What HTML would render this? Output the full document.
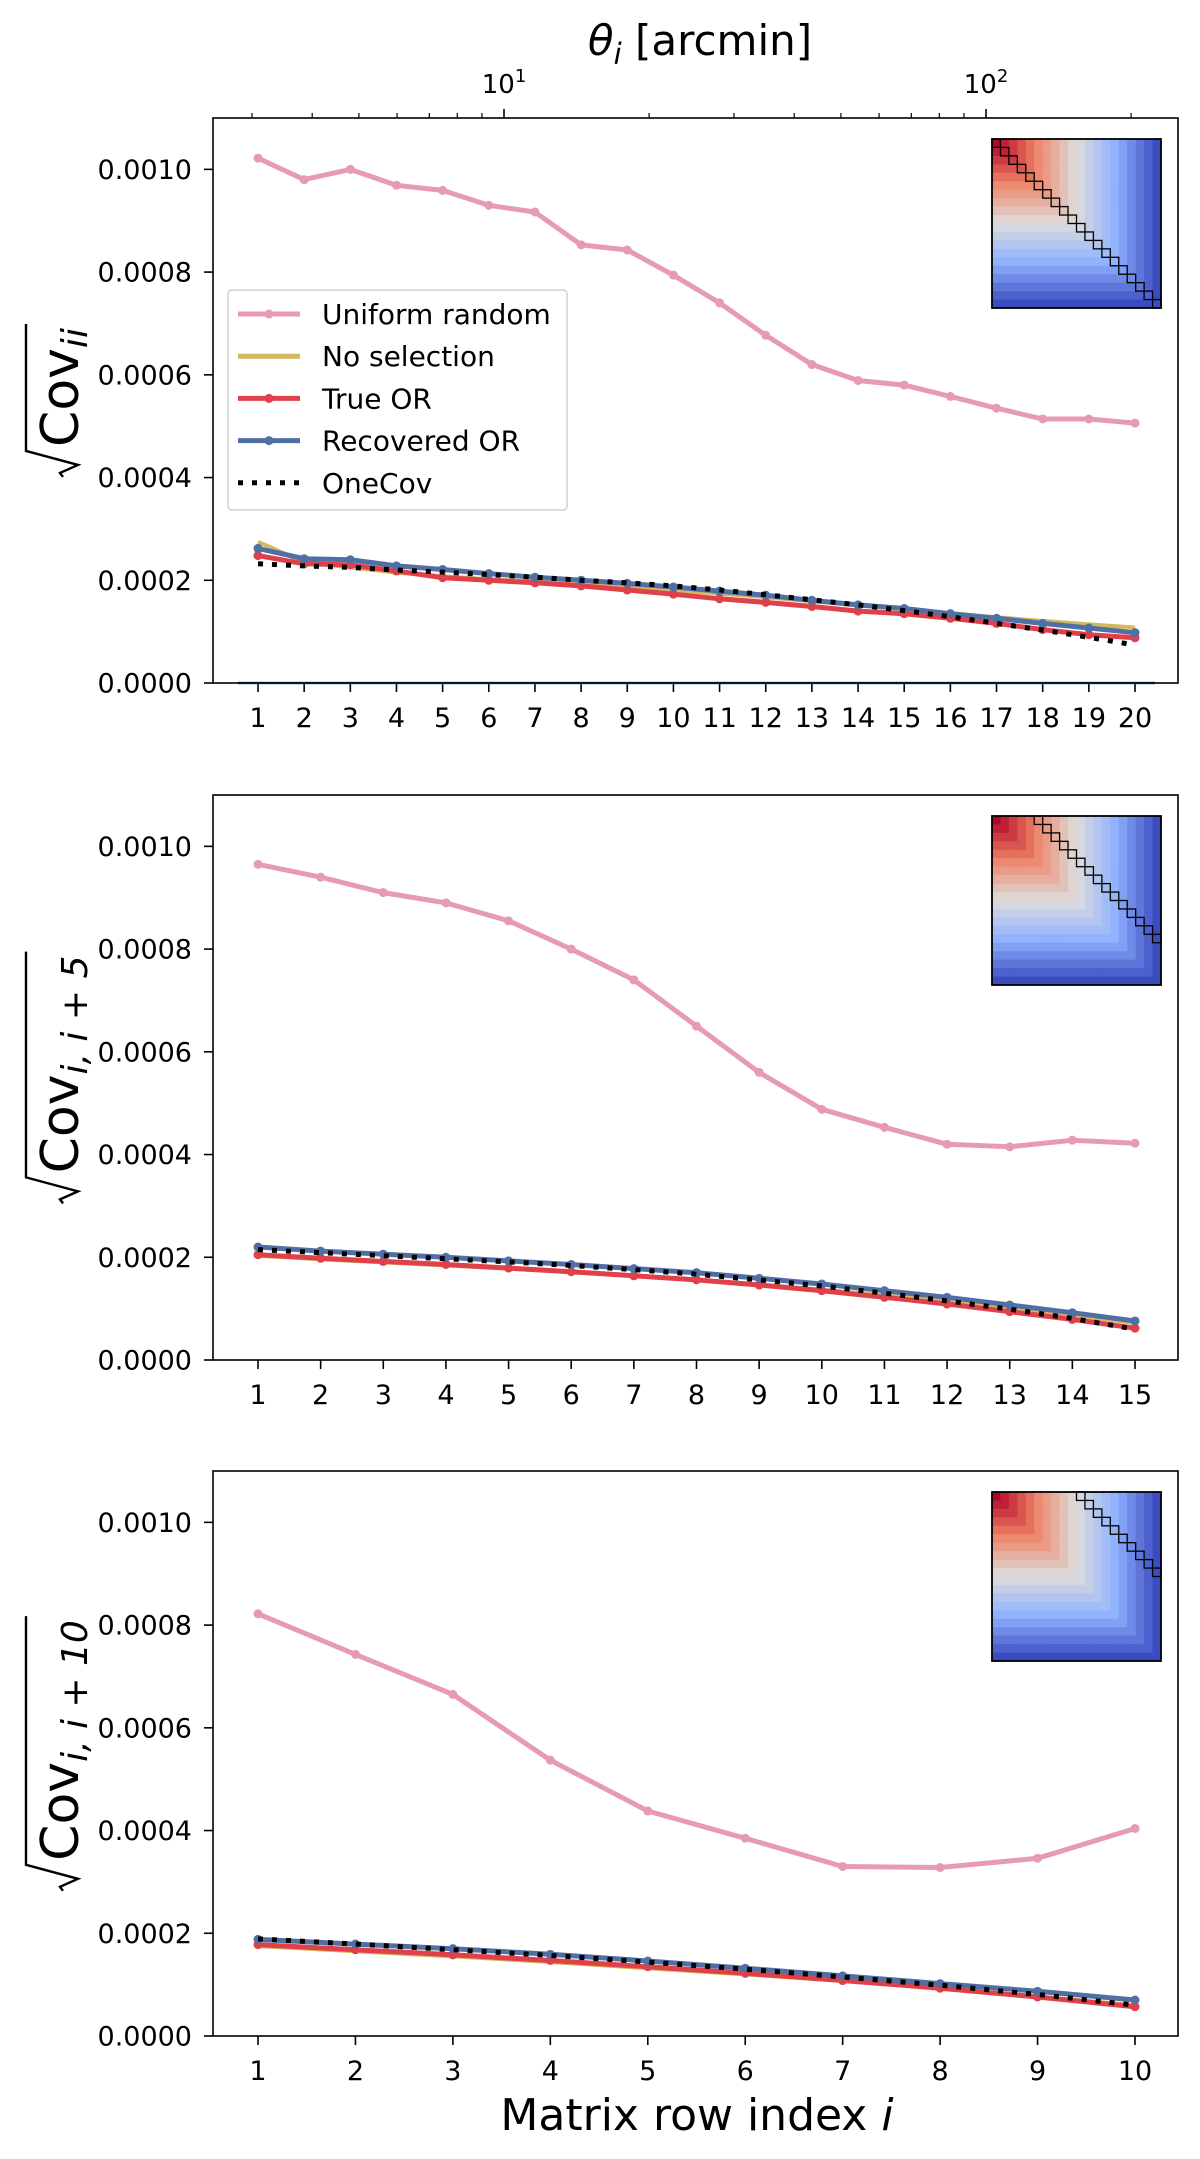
<!DOCTYPE html>
<html><head><meta charset="utf-8"><title>Covariance diagonals</title>
<style>
html,body{margin:0;padding:0;background:#fff;}
svg{display:block;font-family:"DejaVu Sans","Liberation Sans",sans-serif;}
</style></head>
<body>
<svg id="fig" width="1200" height="2159" viewBox="0 0 1200 2159" xmlns="http://www.w3.org/2000/svg"></svg>
<script>
// ---- data ----
const p1Uniform=[0.001022,0.00098,0.001,0.000969,0.000959,0.00093,0.000917,0.000853,0.000843,0.000794,0.00074,0.000677,0.00062,0.000589,0.00058,0.000558,0.000535,0.000514,0.000514,0.000506];
const p1NoSel=[0.000275,0.000235,0.000225,0.000215,0.000208,0.000202,0.000197,0.000191,0.000186,0.000181,0.000174,0.000167,0.000159,0.000151,0.000144,0.000136,0.000128,0.000121,0.000114,0.000108];
const p1True=[0.000248,0.000232,0.00023,0.000218,0.000205,0.0002,0.000195,0.000189,0.000181,0.000173,0.000164,0.000157,0.000149,0.00014,0.000135,0.000126,0.000116,0.000104,0.000094,0.000088];
const p1Rec=[0.000262,0.000242,0.00024,0.000228,0.000221,0.000213,0.000206,0.0002,0.000194,0.000187,0.000179,0.000171,0.000161,0.000152,0.000145,0.000135,0.000126,0.000116,0.000107,0.000098];
const p1One=[0.000232,0.000228,0.000225,0.00022,0.000216,0.000211,0.000206,0.0002,0.000195,0.000189,0.000181,0.000172,0.000162,0.000152,0.000141,0.000129,0.000116,0.000103,0.000089,0.000074];
const p2Uniform=[0.000965,0.00094,0.00091,0.00089,0.000855,0.0008,0.00074,0.00065,0.00056,0.000488,0.000453,0.00042,0.000415,0.000428,0.000422];
const p2NoSel=[0.000203,0.000196,0.00019,0.000184,0.000178,0.000171,0.000164,0.000156,0.000147,0.000137,0.000126,0.000114,0.000101,0.000087,0.000072];
const p2True=[0.000205,0.000198,0.000192,0.000186,0.000179,0.000172,0.000164,0.000156,0.000146,0.000135,0.000122,0.000109,0.000094,0.000079,0.000062];
const p2Rec=[0.00022,0.000212,0.000206,0.0002,0.000193,0.000186,0.000178,0.00017,0.000159,0.000148,0.000135,0.000122,0.000107,0.000092,0.000076];
const p2One=[0.000215,0.000209,0.000203,0.000197,0.000191,0.000184,0.000176,0.000167,0.000156,0.000144,0.00013,0.000115,0.000099,0.000081,0.00006];
const p3Uniform=[0.000822,0.000743,0.000665,0.000537,0.000438,0.000385,0.00033,0.000328,0.000346,0.000404];
const p3NoSel=[0.000175,0.000165,0.000155,0.000144,0.000132,0.00012,0.000107,0.000093,0.000077,0.00006];
const p3True=[0.000178,0.000168,0.000158,0.000147,0.000135,0.000122,0.000108,0.000093,0.000076,0.000057];
const p3Rec=[0.000188,0.000179,0.00017,0.000159,0.000146,0.000132,0.000117,0.000102,0.000087,0.00007];
const p3One=[0.000189,0.000179,0.000168,0.000157,0.000144,0.00013,0.000115,0.000099,0.000081,0.00006];
const yTicks=[0,0.0002,0.0004,0.0006,0.0008,0.001];
const yTickLabels=["0.0000","0.0002","0.0004","0.0006","0.0008","0.0010"];
const legendLabels=["Uniform random","No selection","True OR","Recovered OR","OneCov"];
const thetaMajor=[10,100];
const thetaMinor=[3,4,5,6,7,8,9,20,30,40,50,60,70,80,90,200];
// ---- drawing ----
const NS="http://www.w3.org/2000/svg";
const svg=document.getElementById('fig');
function mk(tag,attrs,parent){const e=document.createElementNS(NS,tag);for(const k in attrs)e.setAttribute(k,attrs[k]);(parent||svg).appendChild(e);return e;}
const C={uni:"#e69ab5",nos:"#d4b85c",tru:"#e0404a",rec:"#5070a5"};
const AX_L=213,AX_R=1178,AX_H=565,TF=27;
const panels=[
 {top:118,n:20,off:0,series:[p1Uniform,p1NoSel,p1True,p1Rec,p1One],lab:"ii"},
 {top:795,n:15,off:5,series:[p2Uniform,p2NoSel,p2True,p2Rec,p2One],lab:"i, i + 5"},
 {top:1471,n:10,off:10,series:[p3Uniform,p3NoSel,p3True,p3Rec,p3One],lab:"i, i + 10"}
];
function coolwarm(t){
 const st=[[0,[180,4,38]],[0.25,[238,132,104]],[0.5,[221,221,221]],[0.75,[141,176,254]],[1,[59,76,192]]];
 for(let k=0;k<st.length-1;k++){const a=st[k],b=st[k+1];if(t<=b[0]){const f=(t-a[0])/(b[0]-a[0]);return "rgb("+a[1].map((v,i)=>Math.round(v+(b[1][i]-v)*f)).join(",")+")";}}
 return "rgb(59,76,192)";
}
panels.forEach((p,pi)=>{
 const g=mk('g',{});
 
 
 const bot=p.top+AX_H;
 const xs=i=>258+(i-1)*(1135-258)/(p.n-1);
 const ys=v=>bot-v/0.0011*AX_H;
 yTicks.forEach((t,k)=>{
  const y=ys(t);
  const tl=mk('line',{x1:AX_L-9,x2:AX_L,y1:y,y2:y,stroke:"#000","stroke-width":1.6},g);
  
  const tx=mk('text',{x:AX_L-21,y:y+9.5,"text-anchor":"end","font-size":TF},g);tx.textContent=yTickLabels[k];
  
 });
 for(let i=1;i<=p.n;i++){
  const x=xs(i);
  const tl=mk('line',{x1:x,x2:x,y1:bot,y2:bot+9,stroke:"#000","stroke-width":1.6},g);
  
  const tx=mk('text',{x:x,y:bot+44,"text-anchor":"middle","font-size":TF},g);tx.textContent=i;
  
 }
 const cy=p.top+AX_H/2;
 const yl=mk('g',{transform:"translate(78,"+cy+") rotate(-90)"},g);
 
 const t=mk('text',{x:0,y:0,"font-size":52},yl);
 t.innerHTML='Cov<tspan font-style="italic" font-size="36" dy="9">'+p.lab+'</tspan>';
 let w=t.getComputedTextLength?t.getComputedTextLength():120;
 if(!w||w<20)w=120+p.lab.length*14;
 const total=30+w+4, u0=-total/2;
 t.setAttribute('x',u0+30);
 mk('path',{d:"M"+(u0)+",-15 L"+(u0+4)+",-18 L"+(u0+12)+",0 L"+(u0+26)+",-52 L"+(u0+total)+",-52",fill:"none",stroke:"#000","stroke-width":2.4},yl);
 if(pi===0){
  const hl=mk('line',{x1:238,x2:1155,y1:bot,y2:bot,stroke:"#1f77b4","stroke-width":2.5},g);
  
 }
 const cols=[C.uni,C.nos,C.tru,C.rec,"#000"];
 const names=["uniform-random","no-selection","true-or","recovered-or","onecov"];
 p.series.forEach((s,si)=>{
  const pts=s.map((v,i)=>xs(i+1).toFixed(1)+","+ys(v).toFixed(1)).join(" ");
  const attrs={points:pts,fill:"none",stroke:cols[si],"stroke-width":si===1?4:5,"stroke-linejoin":"round"};
  if(si===4){attrs["stroke-dasharray"]="5 9";}
  const pl=mk('polyline',attrs,g);
  
  if(si===0||si===2||si===3){
   s.forEach((v,i)=>{const c=mk('circle',{cx:xs(i+1),cy:ys(v),r:4.5,fill:cols[si]},g);
    });
  }
 });
 const fr=mk('rect',{x:AX_L,y:p.top,width:AX_R-AX_L,height:AX_H,fill:"none",stroke:"#000","stroke-width":1.6},g);
 
 const ix=992,iy=p.top+21,cs=169/20;
 const ins=mk('g',{},g);
 
 for(let r=0;r<20;r++)for(let c=0;c<20;c++){
  mk('rect',{x:ix+c*cs,y:iy+r*cs,width:cs+0.4,height:cs+0.4,fill:coolwarm(Math.max(r,c)/19)},ins);
 }
 for(let k=0;k+p.off<20;k++){
  mk('rect',{x:ix+(k+p.off)*cs,y:iy+k*cs,width:cs,height:cs,fill:"none",stroke:"#000","stroke-width":1.3},ins);
 }
 mk('rect',{x:ix,y:iy,width:169,height:169,fill:"none",stroke:"#000","stroke-width":1.8},ins);
});
const LX=t=>504+(Math.log10(t)-1)*482;
thetaMinor.forEach(t=>{const l=mk('line',{x1:LX(t),x2:LX(t),y1:118,y2:113,stroke:"#000","stroke-width":1.2});
 });
thetaMajor.forEach((t,k)=>{const l=mk('line',{x1:LX(t),x2:LX(t),y1:118,y2:109,stroke:"#000","stroke-width":1.6});
 
 const tx=mk('text',{x:LX(t),y:93,"text-anchor":"middle","font-size":26});
 tx.innerHTML='10<tspan font-size="18" dy="-11">'+(k+1)+'</tspan>';
 });
const tt=mk('text',{x:700,y:55,"text-anchor":"middle","font-size":42});
tt.innerHTML='<tspan font-style="italic">θ</tspan><tspan font-style="italic" font-size="29" dy="9">i</tspan><tspan dy="-9"> [arcmin]</tspan>';

const xt=mk('text',{x:697,y:2130,"text-anchor":"middle","font-size":44});
xt.innerHTML='Matrix row index <tspan font-style="italic">i</tspan>';

const lg=mk('g',{});

mk('rect',{x:228,y:290,width:339,height:220,rx:4,fill:"#fff","fill-opacity":0.85,stroke:"#d0d0d0","stroke-width":1.5},lg);
const lcols=[C.uni,C.nos,C.tru,C.rec,"#000"];
legendLabels.forEach((lab,k)=>{
 const y=314+k*42.2;
 const e=mk('g',{},lg);
 
 const a={x1:238,x2:300,y1:y,y2:y,stroke:lcols[k],"stroke-width":5};
 if(k===4)a["stroke-dasharray"]="5 9";
 mk('line',a,e);
 if(k===0||k===2||k===3)mk('circle',{cx:269,cy:y,r:4.5,fill:lcols[k]},e);
 const tx=mk('text',{x:322,y:y+10,"font-size":28},e);tx.textContent=lab;
});
</script>
</body></html>
